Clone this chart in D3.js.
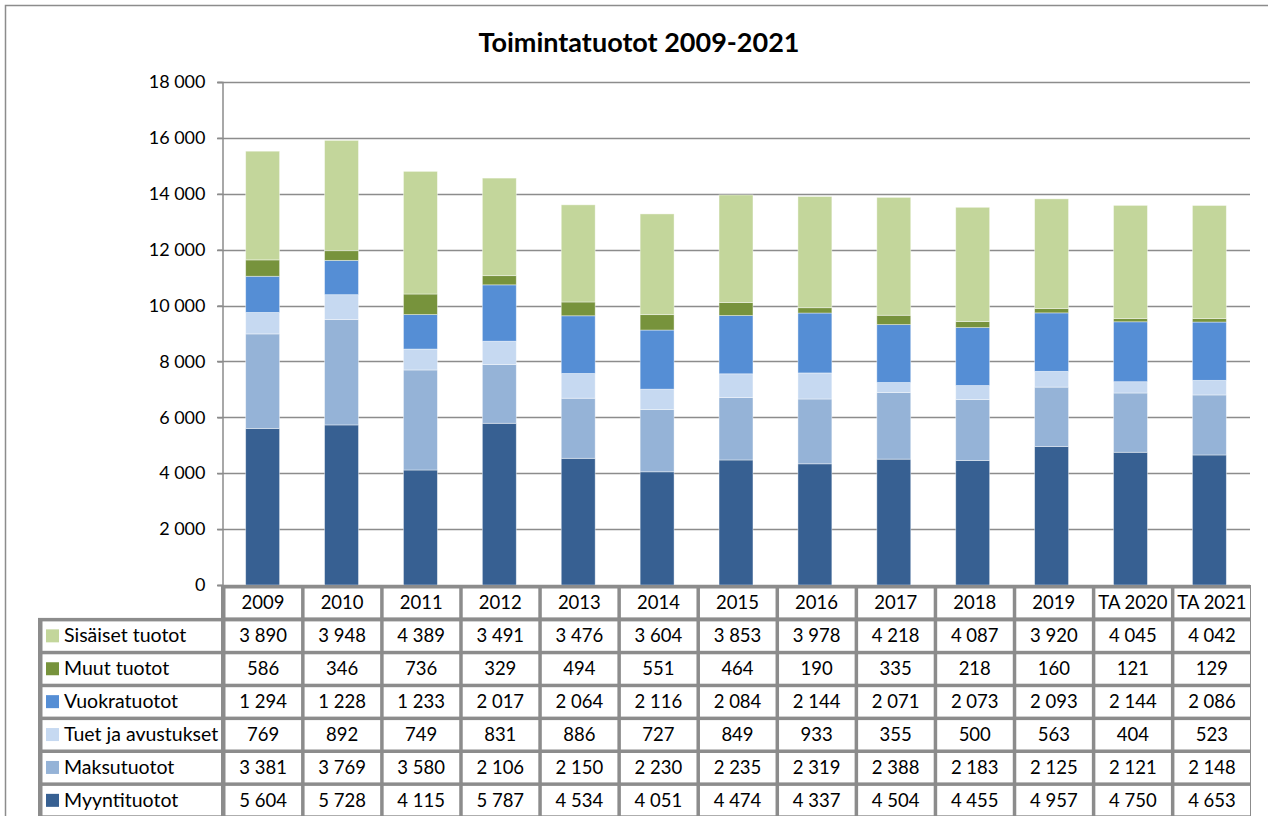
<!DOCTYPE html>
<meta charset='utf-8'>
<style>
  body { margin: 0; background: #fff; }
  text { font-family: Lato, 'Open Sans', sans-serif; fill: #000; }
</style>
<svg width='1268' height='816'></svg>
<script src="https://d3js.org/d3.v7.min.js"></script>
<script>
  var years = ['2009', '2010', '2011', '2012', '2013', '2014', '2015', '2016', '2017', '2018', '2019', 'TA 2020', 'TA 2021'];
  // bottom to top
  var seriesNames = ['Myyntituotot', 'Maksutuotot', 'Tuet ja avustukset', 'Vuokratuotot', 'Muut tuotot', 'Sisäiset tuotot'];
  var seriesColors = ['#376092', '#95b3d7', '#c6d9f1', '#558ed5', '#77933c', '#c3d69b'];
  var myynti = [5604, 5728, 4115, 5787, 4534, 4051, 4474, 4337, 4504, 4455, 4957, 4750, 4653];
  var maksu = [3381, 3769, 3580, 2106, 2150, 2230, 2235, 2319, 2388, 2183, 2125, 2121, 2148];
  var tuet = [769, 892, 749, 831, 886, 727, 849, 933, 355, 500, 563, 404, 523];
  var vuokra = [1294, 1228, 1233, 2017, 2064, 2116, 2084, 2144, 2071, 2073, 2093, 2144, 2086];
  var muut = [586, 346, 736, 329, 494, 551, 464, 190, 335, 218, 160, 121, 129];
  var sisaiset = [3890, 3948, 4389, 3491, 3476, 3604, 3853, 3978, 4218, 4087, 3920, 4045, 4042];
  var yTicks = [0, 2000, 4000, 6000, 8000, 10000, 12000, 14000, 16000, 18000];

  var seriesValues = [myynti, maksu, tuet, vuokra, muut, sisaiset];

  var svg = d3.select('svg');
  var plotLeft = 222, plotRight = 1250, plotTop = 82, plotBottom = 585;
  var grey = '#8c8c8c';
  var fmt = function(v) { return d3.format(',')(v).replace(/,/g, ' '); };

  // outer chart frame
  svg.append('rect')
    .attr('x', 5.5).attr('y', 5.5).attr('width', 1300).attr('height', 900)
    .attr('fill', 'none').attr('stroke', grey).attr('stroke-width', 1.5);

  svg.append('text')
    .attr('x', 639).attr('y', 52)
    .attr('text-anchor', 'middle')
    .style('font-size', '27px').style('font-weight', 'bold')
    .text('Toimintatuotot 2009-2021');

  var x = d3.scaleBand().domain(years).range([plotLeft, plotRight]).paddingInner(0.57).paddingOuter(0.3);
  var y = d3.scaleLinear().domain([0, 18000]).range([plotBottom, plotTop]);

  // gridlines
  svg.append('g').selectAll('line').data(yTicks).enter().append('line')
    .attr('x1', plotLeft - 5).attr('x2', plotRight)
    .attr('y1', function(d) { return Math.round(y(d)) + 0.5; })
    .attr('y2', function(d) { return Math.round(y(d)) + 0.5; })
    .attr('stroke', grey).attr('stroke-width', 1.5);

  var yAxis = svg.append('g')
    .attr('transform', 'translate(' + (plotLeft + 0.5) + ',0)')
    .call(d3.axisLeft(y).tickValues(yTicks).tickSize(5).tickPadding(12).tickFormat(fmt));
  yAxis.select('.domain').attr('stroke', grey).attr('stroke-width', 1.5);
  yAxis.selectAll('.tick line').attr('stroke', grey).attr('stroke-width', 1.5);
  yAxis.selectAll('.tick text').style('font-size', '18px').style('font-family', 'Lato');

  // stacked bars
  var rows = years.map(function(yr, i) {
    var r = { year: yr };
    seriesNames.forEach(function(s, j) { r[s] = seriesValues[j][i]; });
    return r;
  });
  var stacked = d3.stack().keys(seriesNames)(rows);

  svg.append('g').selectAll('g').data(stacked).enter().append('g')
    .attr('fill', function(d, i) { return seriesColors[i]; })
    .selectAll('rect').data(function(d) { return d; }).enter().append('rect')
    .attr('x', function(d) { return x(d.data.year); })
    .attr('width', x.bandwidth())
    .attr('y', function(d) { return y(d[1]); })
    .attr('height', function(d) { return y(d[0]) - y(d[1]); })
    .attr('stroke', '#ffffff').attr('stroke-opacity', 0.5).attr('stroke-width', 0.8);

  // data table
  var tbl = svg.append('g');
  var rowTop = 585, rowH = 32.9, colW = (plotRight - plotLeft) / years.length, labelLeft = 38;
  var line = 3.5;

  tbl.append('rect')
    .attr('x', plotLeft - 1).attr('y', rowTop)
    .attr('width', plotRight - plotLeft + 2).attr('height', rowH + 1)
    .attr('fill', grey);
  tbl.append('rect')
    .attr('x', labelLeft).attr('y', rowTop + rowH)
    .attr('width', plotRight - labelLeft + 1).attr('height', rowH * 6 + 1)
    .attr('fill', grey);

  function cell(x0, y0, w, h) {
    tbl.append('rect')
      .attr('x', x0 + line).attr('y', y0 + line)
      .attr('width', w - line).attr('height', h - line)
      .attr('fill', '#fff');
  }

  years.forEach(function(yr, i) {
    var cx = plotLeft + i * colW;
    cell(cx, rowTop, colW, rowH - 0.5);
    tbl.append('text')
      .attr('x', cx + colW / 2 + 1.5).attr('y', rowTop + rowH / 2 + 8)
      .attr('text-anchor', 'middle').style('font-size', '18.5px')
      .text(yr);
  });

  // table rows listed top to bottom (reverse of stack order)
  d3.range(seriesNames.length).reverse().forEach(function(j, r) {
    var ry = rowTop + rowH * (r + 1);
    cell(labelLeft + 1, ry, plotLeft - labelLeft - 2, rowH);
    tbl.append('rect')
      .attr('x', 46).attr('y', ry + rowH / 2 - 5)
      .attr('width', 13).attr('height', 13)
      .attr('fill', seriesColors[j]);
    tbl.append('text')
      .attr('x', 64).attr('y', ry + rowH / 2 + 8)
      .style('font-size', '19.5px')
      .text(seriesNames[j]);
    years.forEach(function(yr, i) {
      var cx = plotLeft + i * colW;
      cell(cx, ry, colW, rowH);
      tbl.append('text')
        .attr('x', cx + colW / 2 + 1.5).attr('y', ry + rowH / 2 + 8)
        .attr('text-anchor', 'middle').style('font-size', '18.5px')
        .text(fmt(seriesValues[j][i]));
    });
  });
</script>
